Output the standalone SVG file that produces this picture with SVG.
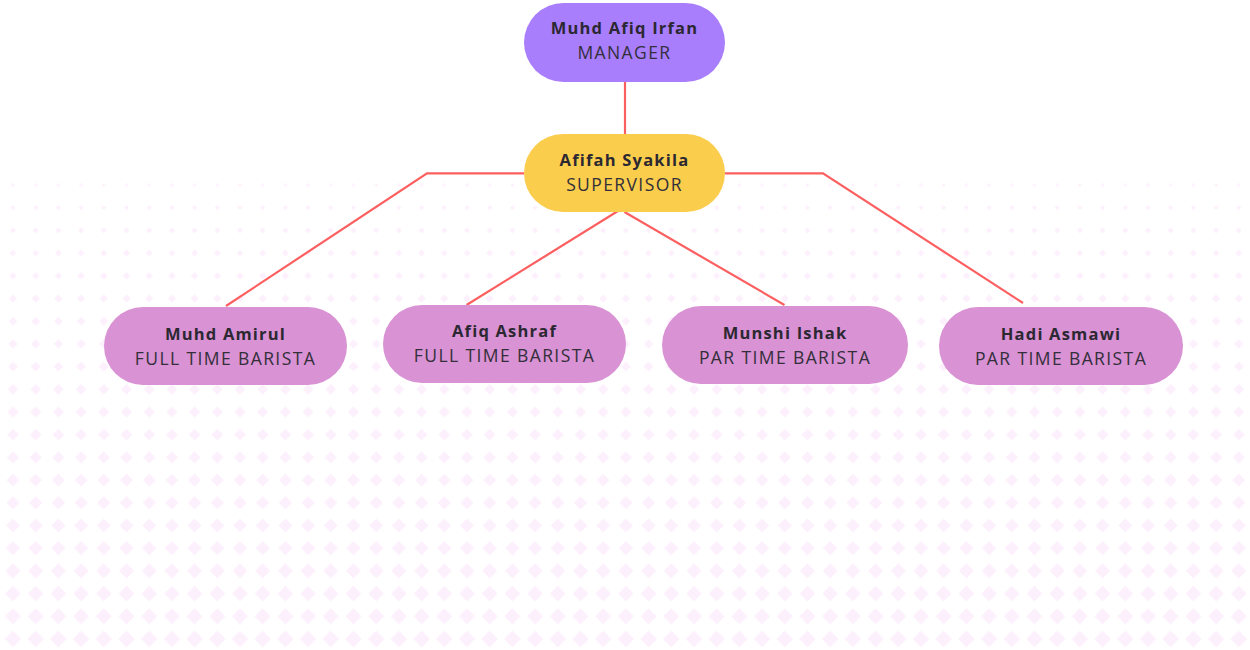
<svg xmlns="http://www.w3.org/2000/svg" width="1250" height="650" viewBox="0 0 1250 650">
<style>
.nm{font-family:"Open Sans","Liberation Sans",sans-serif;font-weight:700;font-size:16.5px;letter-spacing:1.2px;fill:#2b2832;text-anchor:middle}
.rl{font-family:"Open Sans","Liberation Sans",sans-serif;font-weight:400;font-size:17.5px;letter-spacing:1.4px;fill:#332f3a;text-anchor:middle}
.ln{stroke:#fc5f60;stroke-width:2.2;fill:none;stroke-linecap:butt}
.bar{fill:#d992d3}
</style>
<defs>
<pattern id="p0" patternUnits="userSpaceOnUse" x="1.65" y="173.65" width="22.7" height="22.7"><path d="M11.35 9.35L13.35 11.35L11.35 13.35L9.35 11.35Z" fill="#fdf0fd"/></pattern>
<pattern id="p1" patternUnits="userSpaceOnUse" x="1.65" y="196.35" width="22.7" height="22.7"><path d="M11.35 8.78L13.92 11.35L11.35 13.92L8.78 11.35Z" fill="#fdf0fd"/></pattern>
<pattern id="p2" patternUnits="userSpaceOnUse" x="1.65" y="219.05" width="22.7" height="22.7"><path d="M11.35 8.35L14.35 11.35L11.35 14.35L8.35 11.35Z" fill="#fdf0fd"/></pattern>
<pattern id="p3" patternUnits="userSpaceOnUse" x="1.65" y="241.75" width="22.7" height="22.7"><path d="M11.35 7.97L14.73 11.35L11.35 14.73L7.97 11.35Z" fill="#fdf0fd"/></pattern>
<pattern id="p4" patternUnits="userSpaceOnUse" x="1.65" y="264.45" width="22.7" height="22.7"><path d="M11.35 7.61L15.09 11.35L11.35 15.09L7.61 11.35Z" fill="#fdf0fd"/></pattern>
<pattern id="p5" patternUnits="userSpaceOnUse" x="1.65" y="287.15" width="22.7" height="22.7"><path d="M11.35 7.27L15.43 11.35L11.35 15.43L7.27 11.35Z" fill="#fdf0fd"/></pattern>
<pattern id="p6" patternUnits="userSpaceOnUse" x="1.65" y="309.85" width="22.7" height="22.7"><path d="M11.35 6.95L15.75 11.35L11.35 15.75L6.95 11.35Z" fill="#fdf0fd"/></pattern>
<pattern id="p7" patternUnits="userSpaceOnUse" x="1.65" y="332.55" width="22.7" height="22.7"><path d="M11.35 6.63L16.07 11.35L11.35 16.07L6.63 11.35Z" fill="#fdf0fd"/></pattern>
<pattern id="p8" patternUnits="userSpaceOnUse" x="1.65" y="355.25" width="22.7" height="22.7"><path d="M11.35 6.32L16.38 11.35L11.35 16.38L6.32 11.35Z" fill="#fdf0fd"/></pattern>
<pattern id="p9" patternUnits="userSpaceOnUse" x="1.65" y="377.95" width="22.7" height="22.7"><path d="M11.35 6.02L16.68 11.35L11.35 16.68L6.02 11.35Z" fill="#fdf0fd"/></pattern>
<pattern id="p10" patternUnits="userSpaceOnUse" x="1.65" y="400.65" width="22.7" height="22.7"><path d="M11.35 5.73L16.97 11.35L11.35 16.97L5.73 11.35Z" fill="#fdf0fd"/></pattern>
<pattern id="p11" patternUnits="userSpaceOnUse" x="1.65" y="423.35" width="22.7" height="22.7"><path d="M11.35 5.44L17.26 11.35L11.35 17.26L5.44 11.35Z" fill="#fdf0fd"/></pattern>
<pattern id="p12" patternUnits="userSpaceOnUse" x="1.65" y="446.05" width="22.7" height="22.7"><path d="M11.35 5.16L17.54 11.35L11.35 17.54L5.16 11.35Z" fill="#fdf0fd"/></pattern>
<pattern id="p13" patternUnits="userSpaceOnUse" x="1.65" y="468.75" width="22.7" height="22.7"><path d="M11.35 4.89L17.81 11.35L11.35 17.81L4.89 11.35Z" fill="#fdf0fd"/></pattern>
<pattern id="p14" patternUnits="userSpaceOnUse" x="1.65" y="491.45" width="22.7" height="22.7"><path d="M11.35 4.61L18.09 11.35L11.35 18.09L4.61 11.35Z" fill="#fdf0fd"/></pattern>
<pattern id="p15" patternUnits="userSpaceOnUse" x="1.65" y="514.15" width="22.7" height="22.7"><path d="M11.35 4.34L18.36 11.35L11.35 18.36L4.34 11.35Z" fill="#fdf0fd"/></pattern>
<pattern id="p16" patternUnits="userSpaceOnUse" x="1.65" y="536.85" width="22.7" height="22.7"><path d="M11.35 4.08L18.62 11.35L11.35 18.62L4.08 11.35Z" fill="#fdf0fd"/></pattern>
<pattern id="p17" patternUnits="userSpaceOnUse" x="1.65" y="559.55" width="22.7" height="22.7"><path d="M11.35 3.82L18.88 11.35L11.35 18.88L3.82 11.35Z" fill="#fdf0fd"/></pattern>
<pattern id="p18" patternUnits="userSpaceOnUse" x="1.65" y="582.25" width="22.7" height="22.7"><path d="M11.35 3.56L19.14 11.35L11.35 19.14L3.56 11.35Z" fill="#fdf0fd"/></pattern>
<pattern id="p19" patternUnits="userSpaceOnUse" x="1.65" y="604.95" width="22.7" height="22.7"><path d="M11.35 3.3L19.4 11.35L11.35 19.4L3.3 11.35Z" fill="#fdf0fd"/></pattern>
<pattern id="p20" patternUnits="userSpaceOnUse" x="1.65" y="627.65" width="22.7" height="22.7"><path d="M11.35 3.05L19.65 11.35L11.35 19.65L3.05 11.35Z" fill="#fdf0fd"/></pattern>
</defs>
<rect width="1250" height="650" fill="#ffffff"/>
<g id="background-dots">
<rect x="0" y="173.65" width="1250" height="22.7" fill="url(#p0)"/>
<rect x="0" y="196.35" width="1250" height="22.7" fill="url(#p1)"/>
<rect x="0" y="219.05" width="1250" height="22.7" fill="url(#p2)"/>
<rect x="0" y="241.75" width="1250" height="22.7" fill="url(#p3)"/>
<rect x="0" y="264.45" width="1250" height="22.7" fill="url(#p4)"/>
<rect x="0" y="287.15" width="1250" height="22.7" fill="url(#p5)"/>
<rect x="0" y="309.85" width="1250" height="22.7" fill="url(#p6)"/>
<rect x="0" y="332.55" width="1250" height="22.7" fill="url(#p7)"/>
<rect x="0" y="355.25" width="1250" height="22.7" fill="url(#p8)"/>
<rect x="0" y="377.95" width="1250" height="22.7" fill="url(#p9)"/>
<rect x="0" y="400.65" width="1250" height="22.7" fill="url(#p10)"/>
<rect x="0" y="423.35" width="1250" height="22.7" fill="url(#p11)"/>
<rect x="0" y="446.05" width="1250" height="22.7" fill="url(#p12)"/>
<rect x="0" y="468.75" width="1250" height="22.7" fill="url(#p13)"/>
<rect x="0" y="491.45" width="1250" height="22.7" fill="url(#p14)"/>
<rect x="0" y="514.15" width="1250" height="22.7" fill="url(#p15)"/>
<rect x="0" y="536.85" width="1250" height="22.7" fill="url(#p16)"/>
<rect x="0" y="559.55" width="1250" height="22.7" fill="url(#p17)"/>
<rect x="0" y="582.25" width="1250" height="22.7" fill="url(#p18)"/>
<rect x="0" y="604.95" width="1250" height="22.7" fill="url(#p19)"/>
<rect x="0" y="627.65" width="1250" height="22.7" fill="url(#p20)"/>
</g>
<g id="connectors">
<line class="ln" x1="625" y1="82" x2="625" y2="134"/>
<polyline class="ln" points="524,173.3 427,173.3 226,306"/>
<polyline class="ln" points="725,173.3 823,173.3 1023,303"/>
<line class="ln" x1="622" y1="208.5" x2="466.5" y2="305"/>
<line class="ln" x1="624.5" y1="212" x2="784.5" y2="305"/>
</g>
<g id="manager">
<rect x="524" y="3" width="201" height="79" rx="39.5" fill="#a97efc"/>
<text class="nm" x="624.5" y="34">Muhd Afiq Irfan</text>
<text class="rl" x="624.5" y="59">MANAGER</text>
</g>
<g id="supervisor">
<rect x="524" y="134" width="201" height="78" rx="39" fill="#fbcd4c"/>
<text class="nm" x="624.5" y="166">Afifah Syakila</text>
<text class="rl" x="624.5" y="191">SUPERVISOR</text>
</g>
<g id="muhd-amirul">
<rect class="bar" x="104" y="307" width="243" height="78" rx="39"/>
<text class="nm" x="225.5" y="339.5">Muhd Amirul</text>
<text class="rl" x="225.5" y="364.5">FULL TIME BARISTA</text>
</g>
<g id="afiq-ashraf">
<rect class="bar" x="383" y="305" width="243" height="78" rx="39"/>
<text class="nm" x="504.5" y="337">Afiq Ashraf</text>
<text class="rl" x="504.5" y="362">FULL TIME BARISTA</text>
</g>
<g id="munshi-ishak">
<rect class="bar" x="662" y="306" width="246" height="78" rx="39"/>
<text class="nm" x="785" y="338.5">Munshi Ishak</text>
<text class="rl" x="785" y="363.5">PAR TIME BARISTA</text>
</g>
<g id="hadi-asmawi">
<rect class="bar" x="939" y="307" width="244" height="78" rx="39"/>
<text class="nm" x="1061" y="339.5">Hadi Asmawi</text>
<text class="rl" x="1061" y="364.5">PAR TIME BARISTA</text>
</g>
</svg>
